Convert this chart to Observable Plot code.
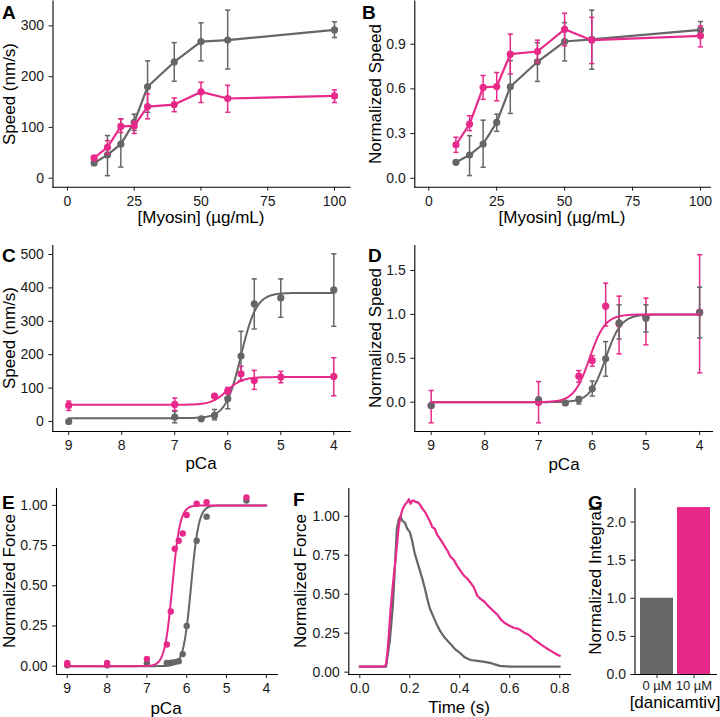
<!DOCTYPE html>
<html><head><meta charset="utf-8">
<script src="https://cdn.jsdelivr.net/npm/d3@7"></script>
<script src="https://cdn.jsdelivr.net/npm/@observablehq/plot@0.6"></script>
<style>
body{margin:0;background:#fff;}
#fig{position:relative;width:720px;height:717px;font-family:"Liberation Sans",Arial,Helvetica,sans-serif;color:#000;overflow:hidden;background:#fff}
.pn{position:absolute}
.pn svg{overflow:visible}
.lab{position:absolute;font-weight:bold;font-size:19px;line-height:1}
.xt{position:absolute;font-size:17px;white-space:nowrap;transform:translate(-50%,-50%);line-height:1}
.yt{position:absolute;font-size:17px;white-space:nowrap;transform:translate(-50%,-50%) rotate(-90deg);line-height:1}
</style></head><body><div id="fig"></div><script>
// ---------- data ----------
const GRAY = "#666666", PINK = "#E7298A";
// A / B : speed vs myosin
const myosin = [10, 15, 20, 25, 30, 40, 50, 60, 100];
const speedA0   = [30, 46, 67, 110, 180, 229, 269, 272, 292];
const speedA0Lo = [26, 5, 22, 94, 130, 191, 231, 215, 277];
const speedA0Hi = [34, 84, 117, 126, 231, 267, 306, 331, 308];
const speedA10   = [40, 61, 102, 103, 141, 145, 170, 157, 162];
const speedA10Lo = [36, 48, 90, 88, 117, 131, 149, 130, 149];
const speedA10Hi = [44, 74, 117, 112, 166, 158, 189, 183, 174];
const normB0   = [0.107, 0.156, 0.23, 0.375, 0.614, 0.782, 0.918, 0.933, 0.996];
const normB0Lo = [0.097, 0.018, 0.074, 0.315, 0.435, 0.65, 0.788, 0.732, 0.945];
const normB0Hi = [0.117, 0.286, 0.39, 0.43, 0.79, 0.91, 1.045, 1.128, 1.052];
const normB10   = [0.225, 0.364, 0.61, 0.616, 0.833, 0.851, 1.0, 0.927, 0.956];
const normB10Lo = [0.174, 0.32, 0.53, 0.52, 0.70, 0.777, 0.889, 0.77, 0.882];
const normB10Hi = [0.275, 0.42, 0.69, 0.71, 0.967, 0.927, 1.108, 1.08, 1.023];
// C / D : speed vs pCa
const pCa0  = [9, 7, 6.5, 6.25, 6, 5.75, 5.5, 5, 4];
const pCa10 = [9, 7, 6.25, 6, 5.75, 5.5, 5, 4];
const speedC0   = [0, 13, 8, 18, 68, 196, 352, 370, 394];
const speedC0Lo = [-3, -4, 5, 5, 38, 123, 277, 312, 285];
const speedC0Hi = [3, 30, 11, 36, 93, 270, 427, 427, 502];
const speedC10   = [48, 51, 76, 92, 143, 123, 133, 135];
const speedC10Lo = [33, 33, 72, 82, 122, 96, 116, 77];
const speedC10Hi = [61, 70, 80, 102, 165, 153, 150, 191];
const normD0   = [-0.038, 0.027, -0.008, 0.03, 0.152, 0.494, 0.904, 0.957, 1.018];
const normD0Lo = [-0.055, 0.0, -0.02, -0.02, 0.07, 0.296, 0.72, 0.80, 0.733];
const normD0Hi = [-0.02, 0.055, 0.005, 0.065, 0.24, 0.69, 1.109, 1.109, 1.31];
const normD10   = [-0.038, -0.005, 0.296, 0.475, 1.094, 0.892, 0.968, 1.025];
const normD10Lo = [-0.235, -0.235, 0.228, 0.41, 0.866, 0.55, 0.653, 0.334];
const normD10Hi = [0.133, 0.235, 0.36, 0.53, 1.356, 1.208, 1.185, 1.68];
// Hill fit parameters
const fitC0  = {bottom: 10, top: 385, pCa50: 5.75, n: 3};
const fitC10 = {bottom: 50, top: 133, pCa50: 6.02, n: 3};
const fitD0  = {bottom: 0, top: 1, pCa50: 5.75, n: 3};
const fitD10 = {bottom: 0, top: 1, pCa50: 6.05, n: 3};
const fitE0  = {bottom: 0, top: 1, pCa50: 5.89, n: 4.5};
const fitE10 = {bottom: 0, top: 1, pCa50: 6.36, n: 4.5};
// E : force-pCa
const pCaE0   = [9, 8, 7, 6.5, 6.4, 6.3, 6.2, 6.1, 6.0, 5.75, 5.5, 4.5];
const forceE0 = [0.005, 0.005, 0.018, 0.02, 0.022, 0.025, 0.03, 0.075, 0.25, 0.78, 0.93, 1.03];
const pCaE10   = [9, 9, 8, 8, 7, 6.5, 6.4, 6.3, 6.2, 6.1, 6.0, 5.75, 5.5, 4.5];
const forceE10 = [0.02, 0.01, 0.02, 0.01, 0.045, 0.135, 0.34, 0.73, 0.78, 0.825, 0.94, 1.01, 1.02, 1.05];
// F : force transients
const timeF0  = [0, 0.05, 0.1, 0.105, 0.12, 0.132, 0.14, 0.148, 0.156, 0.163, 0.17, 0.18, 0.19, 0.2, 0.21, 0.22, 0.235, 0.25, 0.26, 0.27, 0.28, 0.296, 0.31, 0.323, 0.34, 0.363, 0.38, 0.403, 0.42, 0.443, 0.47, 0.5, 0.52, 0.54, 0.56, 0.6, 0.7, 0.8];
const forceF0 = [0.035, 0.035, 0.036, 0.036, 0.2, 0.42, 0.66, 0.92, 0.98, 1.0, 0.97, 0.96, 0.92, 0.9, 0.84, 0.76, 0.68, 0.6, 0.54, 0.47, 0.41, 0.35, 0.3, 0.26, 0.22, 0.18, 0.15, 0.12, 0.095, 0.078, 0.072, 0.066, 0.06, 0.05, 0.04, 0.036, 0.035, 0.035];
const timeF10  = [0, 0.05, 0.1, 0.105, 0.112, 0.118, 0.123, 0.13, 0.136, 0.143, 0.15, 0.156, 0.163, 0.17, 0.176, 0.183, 0.19, 0.196, 0.203, 0.21, 0.216, 0.225, 0.232, 0.243, 0.25, 0.26, 0.27, 0.28, 0.29, 0.3, 0.31, 0.323, 0.335, 0.35, 0.363, 0.376, 0.39, 0.403, 0.416, 0.43, 0.445, 0.456, 0.47, 0.483, 0.5, 0.51, 0.523, 0.536, 0.55, 0.563, 0.576, 0.59, 0.603, 0.616, 0.63, 0.643, 0.656, 0.67, 0.683, 0.696, 0.71, 0.723, 0.736, 0.75, 0.763, 0.776, 0.79, 0.8];
const forceF10 = [0.036, 0.036, 0.037, 0.05, 0.15, 0.28, 0.4, 0.52, 0.62, 0.72, 0.84, 0.94, 1.0, 1.04, 1.06, 1.08, 1.09, 1.11, 1.08, 1.1, 1.1, 1.09, 1.09, 1.07, 1.05, 1.03, 1.0, 0.97, 0.93, 0.92, 0.88, 0.85, 0.82, 0.78, 0.74, 0.72, 0.68, 0.65, 0.62, 0.6, 0.57, 0.545, 0.49, 0.47, 0.45, 0.43, 0.41, 0.39, 0.37, 0.34, 0.32, 0.305, 0.295, 0.285, 0.28, 0.27, 0.255, 0.245, 0.23, 0.21, 0.195, 0.18, 0.165, 0.15, 0.138, 0.125, 0.112, 0.105];
// G : integral
const doseG = ["0 µM", "10 µM"];
const integralG = [1.0, 2.19];

// ---------- helpers ----------
const fig = document.getElementById("fig");
const rows = (xs, ys, lo, hi) => xs.map((x, i) => ({x, y: ys[i], lo: lo ? lo[i] : null, hi: hi ? hi[i] : null}));
const hill = p => d3.range(9, 3.999, -0.02).map(x => ({x, y: p.bottom + (p.top - p.bottom) / (1 + Math.pow(10, p.n * (x - p.pCa50)))}));
const cap = {draw(ctx, size) { const r = Math.sqrt(size / Math.PI); ctx.moveTo(-r, 0); ctx.lineTo(r, 0); }};
function err(d, color) {
  return [
    Plot.ruleX(d, {x: "x", y1: "lo", y2: "hi", stroke: color, strokeWidth: 1.5}),
    Plot.dot(d, {x: "x", y: "lo", symbol: cap, r: 2.6, stroke: color, strokeWidth: 1.5, fill: "none"}),
    Plot.dot(d, {x: "x", y: "hi", symbol: cap, r: 2.6, stroke: color, strokeWidth: 1.5, fill: "none"})
  ];
}
const pts = (d, color, r = 3.6) => Plot.dot(d, {x: "x", y: "y", fill: color, r, stroke: "none"});
const ln = (d, color, w = 2.2) => Plot.line(d, {x: "x", y: "y", stroke: color, strokeWidth: w});
const intFmt = d3.format("d");

function panel(cfg) {
  const [x0, x1, y0, y1] = cfg.frame;
  const div = document.createElement("div");
  div.className = "pn";
  div.style.left = cfg.left + "px";
  div.style.top = cfg.top + "px";
  const chart = Plot.plot({
    width: cfg.width, height: cfg.height,
    marginLeft: x0 - cfg.left, marginRight: cfg.left + cfg.width - x1,
    marginTop: y0 - cfg.top, marginBottom: cfg.top + cfg.height - y1,
    x: {...cfg.x, label: null},
    y: {...cfg.y, label: null},
    style: {fontFamily: '"Liberation Sans", Arial, sans-serif', background: "transparent", color: "#1a1a1a", overflow: "visible"},
    marks: [
      ...cfg.marks,
      Plot.frame({anchor: "left", stroke: "#000", strokeWidth: 1.1}),
      Plot.frame({anchor: "bottom", stroke: "#000", strokeWidth: 1.1}),
      Plot.axisX({ticks: cfg.xTicks, tickFormat: cfg.xFmt, tickSize: 4, tickPadding: cfg.xPad ?? 5, fontSize: cfg.xFont ?? 14, label: null}),
      Plot.axisY({ticks: cfg.yTicks, tickFormat: cfg.yFmt, tickSize: 4, tickPadding: 5, fontSize: 14, label: null})
    ]
  });
  div.appendChild(chart);
  fig.appendChild(div);
}
function text(cls, str, x, y) {
  const d = document.createElement("div");
  d.className = cls; d.textContent = str;
  d.style.left = x + "px"; d.style.top = y + "px";
  fig.appendChild(d);
}

// ---------- panels ----------
const A0 = rows(myosin, speedA0, speedA0Lo, speedA0Hi), A10 = rows(myosin, speedA10, speedA10Lo, speedA10Hi);
panel({left: 0, top: 0, width: 360, height: 235, frame: [52.5, 349.5, 0.5, 186.7],
  x: {domain: [-5.4, 105.8]}, y: {domain: [-17.7, 349]},
  xTicks: [0, 25, 50, 75, 100], yTicks: [0, 100, 200, 300],
  marks: [...err(A0, GRAY), ln(A0, GRAY), pts(A0, GRAY), ...err(A10, PINK), ln(A10, PINK), pts(A10, PINK)]});

const B0 = rows(myosin, normB0, normB0Lo, normB0Hi), B10 = rows(myosin, normB10, normB10Lo, normB10Hi);
panel({left: 360, top: 0, width: 360, height: 235, frame: [414.3, 710, 0.5, 186.7],
  x: {domain: [-5.15, 103.7]}, y: {domain: [-0.06, 1.19]},
  xTicks: [0, 25, 50, 75, 100], yTicks: [0, 0.3, 0.6, 0.9], yFmt: d3.format(".1f"),
  marks: [...err(B0, GRAY), ln(B0, GRAY), pts(B0, GRAY), ...err(B10, PINK), ln(B10, PINK), pts(B10, PINK)]});

const C0 = rows(pCa0, speedC0, speedC0Lo, speedC0Hi), C10 = rows(pCa10, speedC10, speedC10Lo, speedC10Hi);
panel({left: 0, top: 235, width: 360, height: 240, frame: [52.3, 350, 245, 431],
  x: {domain: [9.3, 3.685]}, y: {domain: [-30, 527]},
  xTicks: [9, 8, 7, 6, 5, 4], xFmt: intFmt, yTicks: [0, 100, 200, 300, 400, 500],
  marks: [...err(C0, GRAY), pts(C0, GRAY), ln(hill(fitC0), GRAY, 2), ...err(C10, PINK), pts(C10, PINK), ln(hill(fitC10), PINK, 2)]});

const D0 = rows(pCa0, normD0, normD0Lo, normD0Hi), D10 = rows(pCa10, normD10, normD10Lo, normD10Hi);
panel({left: 360, top: 235, width: 360, height: 240, frame: [414.3, 712, 245, 431],
  x: {domain: [9.305, 3.76]}, y: {domain: [-0.334, 1.785]},
  xTicks: [9, 8, 7, 6, 5, 4], xFmt: intFmt, yTicks: [0, 0.5, 1, 1.5], yFmt: d3.format(".1f"),
  marks: [...err(D10, PINK), pts(D10, PINK), ...err(D0, GRAY), pts(D0, GRAY), ln(hill(fitD0), GRAY, 2), ln(hill(fitD10), PINK, 2)]});

const E0 = rows(pCaE0, forceE0), E10 = rows(pCaE10, forceE10);
panel({left: 0, top: 475, width: 290, height: 242, frame: [56, 277, 488, 674],
  x: {domain: [9.27, 3.72]}, y: {domain: [-0.052, 1.105]},
  xTicks: [9, 8, 7, 6, 5, 4], xFmt: intFmt, yTicks: [0, 0.25, 0.5, 0.75, 1], yFmt: d3.format(".2f"),
  marks: [pts(E0, GRAY, 3.2), ln(hill(fitE0), GRAY, 2), pts(E10, PINK, 3.2), ln(hill(fitE10), PINK, 2)]});

const F0 = rows(timeF0, forceF0), F10 = rows(timeF10, forceF10);
panel({left: 290, top: 475, width: 285, height: 242, frame: [348.3, 570, 488, 674],
  x: {domain: [-0.044, 0.843]}, y: {domain: [-0.015, 1.178]},
  xTicks: [0, 0.2, 0.4, 0.6, 0.8], xFmt: d3.format(".1f"), yTicks: [0, 0.25, 0.5, 0.75, 1], yFmt: d3.format(".2f"),
  marks: [ln(F0, GRAY, 2.2), ln(F10, PINK, 2.2)]});

const G = doseG.map((d, i) => ({dose: d, v: integralG[i]}));
panel({left: 575, top: 475, width: 145, height: 242, frame: [634.5, 716, 488, 674],
  x: {type: "band", domain: doseG, paddingInner: 0.1, paddingOuter: 0.15}, y: {domain: [0, 2.44]},
  xPad: 2, xFont: 13,
  yTicks: [0, 0.5, 1, 1.5, 2], yFmt: d3.format(".1f"),
  marks: [Plot.barY(G, {x: "dose", y: "v", fill: (d) => d.dose === doseG[0] ? GRAY : PINK})]});

// ---------- titles ----------
text("xt", "[Myosin] (µg/mL)", 201, 217);
text("xt", "[Myosin] (µg/mL)", 562, 217);
text("xt", "pCa", 201, 463);
text("xt", "pCa", 564, 464);
text("xt", "pCa", 166, 708);
text("xt", "Time (s)", 459, 707);
text("xt", "[danicamtiv]", 675, 702);
text("yt", "Speed (nm/s)", 9, 94);
text("yt", "Normalized Speed", 375, 94);
text("yt", "Speed (nm/s)", 9, 338);
text("yt", "Normalized Speed", 375, 338);
text("yt", "Normalized Force", 9, 581);
text("yt", "Normalized Force", 300, 581);
text("yt", "Normalized Integral", 595, 581);
text("lab", "A", 2, 3);
text("lab", "B", 362, 3);
text("lab", "C", 2, 246);
text("lab", "D", 368, 246);
text("lab", "E", 2, 493);
text("lab", "F", 293, 490);
text("lab", "G", 588, 493);
</script></body></html>
